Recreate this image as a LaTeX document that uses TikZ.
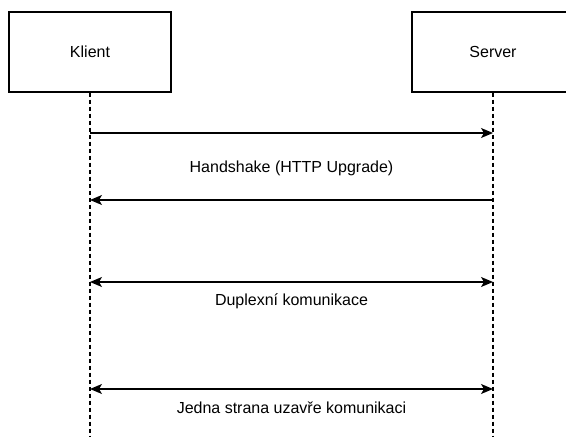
\documentclass[tikz,border=0pt]{standalone}
\usepackage{fontspec}
\setmainfont{Liberation Sans}
\usetikzlibrary{arrows.meta}

\begin{document}
\begin{tikzpicture}[x=1pt,y=-1pt,
		font=\fontsize{16}{19}\selectfont,
		box/.style={draw, line width=1.2pt, minimum width=162pt, minimum height=80pt},
		lifeline/.style={line width=1.2pt, dash pattern=on 4pt off 3pt},
		msg/.style={line width=1.2pt, -{Stealth[length=12pt,width=10pt,inset=3pt]}},
		duplex/.style={line width=1.2pt, {Stealth[length=12pt,width=10pt,inset=3pt]}-{Stealth[length=12pt,width=10pt,inset=3pt]}}]
				\useasboundingbox (0,0) rectangle (566,439);
				
				% Participants
				\node[box] (klient) at (90,52) {Klient};
				\node[box] (server) at (493,52) {Server};
				
				% Lifelines
				\coordinate (klientEnd) at (90,436);
				\coordinate (serverEnd) at (493,436);
				\draw[lifeline] (klient) -- (klientEnd);
				\draw[lifeline] (server) -- (serverEnd);
				
				% Handshake
				\coordinate (k1) at (90,133); \coordinate (s1) at (493,133);
				\coordinate (k2) at (90,200); \coordinate (s2) at (493,200);
				\draw[msg] (k1) -- (s1); % request
				\draw[msg] (s2) -- (k2); % response
				\node (handshake) at (291.5,168) {Handshake (HTTP Upgrade)};
				
				% Duplex
				\coordinate (k3) at (90,282); \coordinate (s3) at (493,282);
				\draw[duplex] (k3) -- (s3);
				\node (duplexni) at (291.5,301) {Duplexní komunikace};
				
				% Closing
				\coordinate (k4) at (90,389); \coordinate (s4) at (493,389);
				\draw[duplex] (k4) -- (s4);
				\node (uzavre) at (291.5,408) {Jedna strana uzavře komunikaci};
			\end{tikzpicture}
\end{document}
